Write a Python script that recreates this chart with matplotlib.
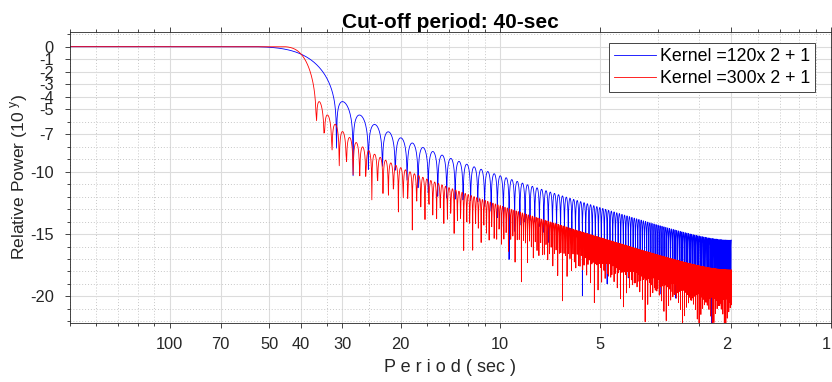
import numpy as np
import matplotlib
matplotlib.use('Agg')
import matplotlib.pyplot as plt
from matplotlib.ticker import FixedLocator, NullFormatter, LogLocator

plt.rcParams['font.family'] = ['Liberation Sans', 'DejaVu Sans']

# filter kernels (half widths), cut-off period and fft size
kernel_half = [120, 300]
kernel_colors = ['b', 'r']
kernel_labels = ['Kernel =120x 2 + 1', 'Kernel =300x 2 + 1']
cutoff_period = 40.0
nfft = 8192

# axis ticks
period_ticks = [100, 70, 50, 40, 30, 20, 10, 5, 2, 1]
y_major = [0, -1, -2, -3, -4, -5, -7, -10, -15, -20]
y_minor = [1, -6, -8, -9, -11, -12, -13, -14, -16, -17, -18, -19, -21, -22]

fc = 1.0 / cutoff_period


def kernel_power(half):
    n = np.arange(-half, half + 1)
    h = np.sinc(2 * fc * n) * np.hanning(2 * half + 1)
    h = h / h.sum()
    H = np.fft.rfft(h, nfft)
    f = np.fft.rfftfreq(nfft)
    p = np.abs(H) ** 2
    return f[1:], np.log10(p[1:])


fig = plt.figure(figsize=(8.32, 3.82), dpi=100)
ax = fig.add_axes([70 / 832, 59.3 / 382, 761 / 832, 291 / 382])

for k, c, lab in zip(kernel_half, kernel_colors, kernel_labels):
    f, y = kernel_power(k)
    ax.plot(f, y, color=c, lw=0.6, label=lab)

ax.set_xscale('log')
ax.set_xlim(0.005, 1)
ax.set_ylim(-22.1, 1.2)

ax.xaxis.set_major_locator(FixedLocator([1.0 / p for p in period_ticks]))
ax.set_xticklabels([str(p) for p in period_ticks])
ax.xaxis.set_minor_locator(LogLocator(base=10, subs=np.arange(2, 10)))
ax.xaxis.set_minor_formatter(NullFormatter())
# last two labels sit a little left of their ticks, as in the original
for t in ax.get_xticklabels()[-2:]:
    t.set_horizontalalignment('right')

ax.set_yticks(y_major)
ax.set_yticklabels([str(v) for v in y_major])
ax.set_yticks(y_minor, minor=True)

ax.grid(which='major', color='#dcdcdc', lw=0.8, ls='-')
ax.grid(which='minor', color='#c8c8c8', lw=0.7, ls=(0, (1, 2)))
ax.set_axisbelow(True)

ax.tick_params(which='both', direction='out', top=True, right=True,
               colors='#262626', labelsize=11.8, width=0.6)
ax.tick_params(axis='x', which='major', length=3.6, pad=7)
ax.tick_params(axis='y', which='major', length=3.6, pad=8)
ax.tick_params(which='minor', length=2.2)
for s in ax.spines.values():
    s.set_color('#262626')
    s.set_linewidth(0.6)

ax.set_title('Cut-off period: 40-sec', fontsize=15, fontweight='bold', pad=3)
ax.set_xlabel('P e r i o d ( sec )', fontsize=13, labelpad=5, color='#262626')
ax.set_ylabel('Relative Power (10 $^{\\mathregular{y}}$)', fontsize=12.6,
              labelpad=0, color='#262626')

leg = ax.legend(loc='upper right', fontsize=12.8, handlelength=2.4,
                handletextpad=0.2, borderpad=0.25, labelspacing=0.3,
                fancybox=False, framealpha=1, edgecolor='#262626',
                bbox_to_anchor=(0.99, 0.99))
leg.get_frame().set_linewidth(0.6)

fig.savefig('out.png', dpi=100)
